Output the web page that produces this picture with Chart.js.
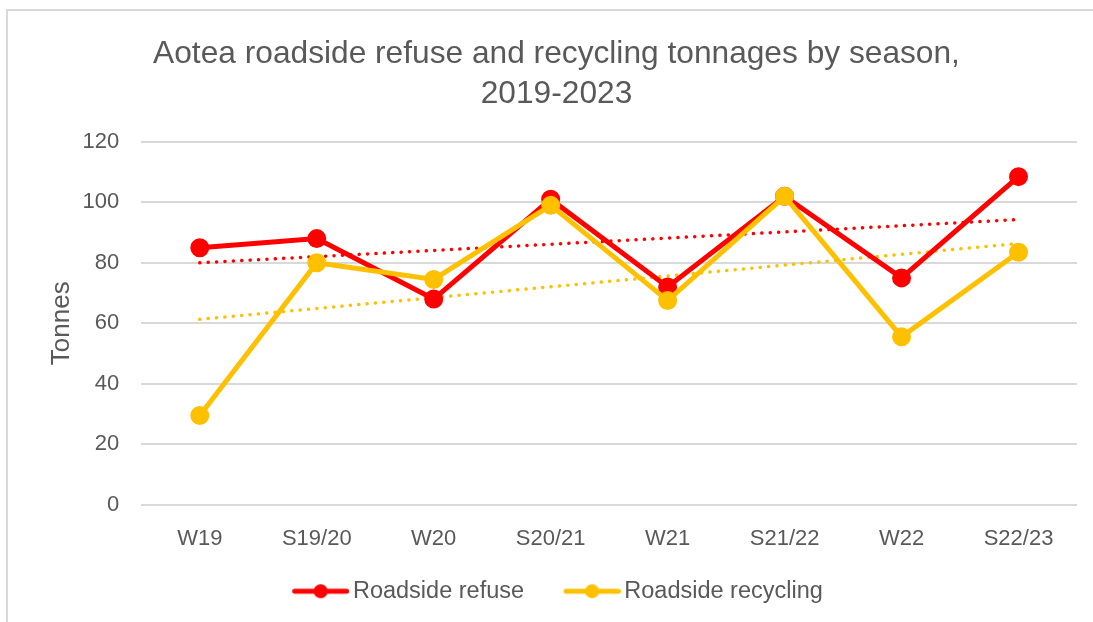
<!DOCTYPE html>
<html>
<head>
    <meta charset="UTF-8">
    <title>Aotea roadside tonnages</title>
    <script src="https://cdn.jsdelivr.net/npm/chart.js"></script>
    <style>
        body {
            margin: 0;
            background-color: #ffffff;
        }

        .frame {
            position: relative;
            width: 1093px;
            height: 622px;
            overflow: hidden;
        }

        /* light grey frame, only top and left edges are visible */
        .frame::before {
            content: "";
            position: absolute;
            left: 6px;
            top: 9px;
            width: 1200px;
            height: 700px;
            border-top: 2px solid #d9d9d9;
            border-left: 2px solid #d9d9d9;
        }

        #tonnageChart {
            position: absolute;
            left: 0;
            top: 0;
        }
    </style>
</head>
<body>
    <div class="frame">
        <canvas id="tonnageChart" width="1093" height="622"></canvas>
    </div>

    <script>
        var seasons = ['W19', 'S19/20', 'W20', 'S20/21', 'W21', 'S21/22', 'W22', 'S22/23'];
        var refuse = [85, 88, 68, 101, 72, 102, 75, 108.5];
        var recycling = [29.5, 80, 74.5, 99, 67.5, 102, 55.5, 83.5];
        // dotted linear trend lines, end values
        var refuseTrend = [80, 94.3];
        var recyclingTrend = [61.3, 86.4];

        var yTicks = [0, 20, 40, 60, 80, 100, 120];

        var RED = '#ff0000';
        var YELLOW = '#ffc000';
        var GREY_TEXT = '#595959';
        var FONT = "'Liberation Sans', Arial, sans-serif";

        // legend icon: line with a dot in the middle. The canvas is wider
        // than pointStyleWidth so the line can sit close to the text.
        function legendIcon(color) {
            var c = document.createElement('canvas');
            c.width = 101;
            c.height = 16;
            var g = c.getContext('2d');
            g.strokeStyle = color;
            g.lineWidth = 5;
            g.lineCap = 'round';
            g.beginPath();
            g.moveTo(46.5, 8);
            g.lineTo(98.5, 8);
            g.stroke();
            g.fillStyle = color;
            g.beginPath();
            g.arc(72.5, 8, 7, 0, Math.PI * 2);
            g.fill();
            return c;
        }

        function trendPoints(ends) {
            return [
                { x: seasons[0], y: ends[0] },
                { x: seasons[seasons.length - 1], y: ends[1] }
            ];
        }

        // nudge the legend row a little to the left
        var legendShift = {
            id: 'legendShift',
            afterLayout: function (chart) {
                if (chart.legend) {
                    chart.legend.left -= 17;
                    chart.legend.right -= 17;
                }
            }
        };

        var ctx = document.getElementById('tonnageChart').getContext('2d');
        var tonnageChart = new Chart(ctx, {
            type: 'line',
            plugins: [legendShift],
            data: {
                labels: seasons,
                datasets: [{
                    label: 'Roadside refuse',
                    data: refuse,
                    borderColor: RED,
                    backgroundColor: RED,
                    borderWidth: 5,
                    pointRadius: 7,
                    pointHoverRadius: 7,
                    order: 2
                }, {
                    label: 'Roadside recycling',
                    data: recycling,
                    borderColor: YELLOW,
                    backgroundColor: YELLOW,
                    borderWidth: 5,
                    pointRadius: 7,
                    pointHoverRadius: 7,
                    order: 1
                }, {
                    label: 'trend refuse',
                    data: trendPoints(refuseTrend),
                    borderColor: RED,
                    borderWidth: 3.5,
                    borderDash: [0.1, 8.3],
                    borderCapStyle: 'round',
                    pointRadius: 0,
                    order: 3
                }, {
                    label: 'trend recycling',
                    data: trendPoints(recyclingTrend),
                    borderColor: YELLOW,
                    borderWidth: 3.5,
                    borderDash: [0.1, 8.3],
                    borderCapStyle: 'round',
                    pointRadius: 0,
                    order: 4
                }]
            },
            options: {
                responsive: false,
                animation: false,
                layout: {
                    padding: { left: 36, right: 16, top: 0, bottom: 9 }
                },
                plugins: {
                    title: {
                        display: true,
                        text: ['Aotea roadside refuse and recycling tonnages by season,', '2019-2023'],
                        color: GREY_TEXT,
                        font: { family: FONT, size: 31.7, weight: 'normal', lineHeight: 1.26 },
                        padding: { top: 34, bottom: 28 }
                    },
                    legend: {
                        position: 'bottom',
                        labels: {
                            color: GREY_TEXT,
                            font: { family: FONT, size: 23.5 },
                            usePointStyle: true,
                            pointStyleWidth: 85,
                            padding: 3.5,
                            generateLabels: function (chart) {
                                return chart.data.datasets.slice(0, 2).map(function (ds, i) {
                                    return {
                                        text: ds.label,
                                        fontColor: GREY_TEXT,
                                        pointStyle: legendIcon(ds.borderColor),
                                        datasetIndex: i,
                                        lineWidth: 0,
                                        strokeStyle: 'transparent',
                                        fillStyle: 'transparent'
                                    };
                                });
                            }
                        }
                    },
                    tooltip: { enabled: false }
                },
                scales: {
                    x: {
                        type: 'category',
                        offset: true,
                        grid: { display: false },
                        border: { display: false },
                        afterFit: function (axis) {
                            axis.height += 11;
                        },
                        ticks: {
                            color: GREY_TEXT,
                            font: { family: FONT, size: 22 },
                            padding: 13,
                            maxRotation: 0
                        }
                    },
                    y: {
                        min: 0,
                        max: 120,
                        afterBuildTicks: function (axis) {
                            axis.ticks = yTicks.map(function (v) { return { value: v }; });
                        },
                        grid: {
                            color: '#d9d9d9',
                            lineWidth: 2,
                            drawTicks: false
                        },
                        border: { display: false },
                        ticks: {
                            color: GREY_TEXT,
                            font: { family: FONT, size: 22 },
                            padding: 22
                        },
                        title: {
                            display: true,
                            text: 'Tonnes',
                            color: GREY_TEXT,
                            font: { family: FONT, size: 26 },
                            padding: { top: 10, bottom: -16.6 }
                        }
                    }
                }
            }
        });
    </script>
</body>
</html>
